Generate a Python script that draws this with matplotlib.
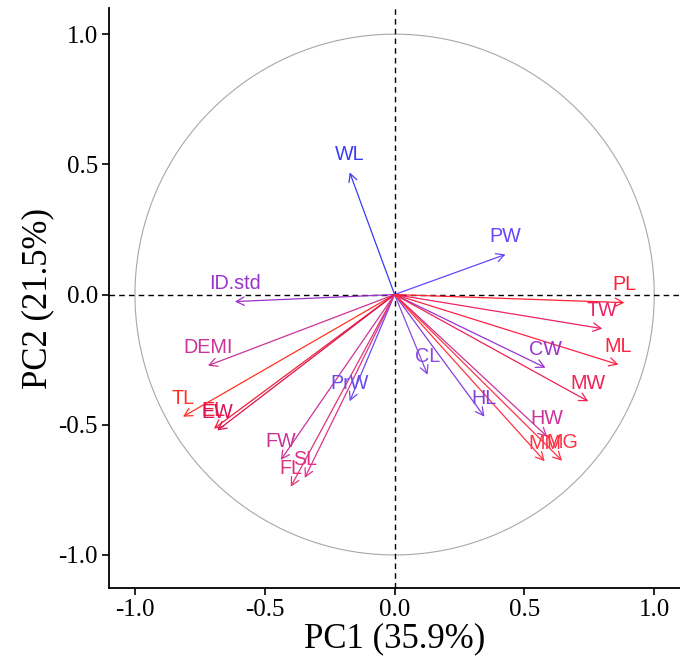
import matplotlib
matplotlib.use("Agg")
import matplotlib.pyplot as plt
import numpy as np

# variable loadings (PC1, PC2)
variables = ["ID.std", "DEMI", "TL", "EL", "EW", "PrW", "FW", "FL", "SL",
             "WL", "PW", "CL", "HL", "CW", "HW", "MM", "MG", "MW", "ML", "TW", "PL"]
pc1 = [-0.615, -0.719, -0.815, -0.696, -0.683, -0.173, -0.438, -0.400, -0.346,
       -0.173, 0.427, 0.127, 0.346, 0.581, 0.588, 0.578, 0.645, 0.746, 0.862, 0.800, 0.885]
pc2 = [-0.027, -0.273, -0.469, -0.515, -0.522, -0.410, -0.635, -0.738, -0.704,
       0.469, 0.154, -0.308, -0.469, -0.281, -0.546, -0.640, -0.638, -0.410, -0.269, -0.131, -0.031]
colors = ["#9933cc", "#cc3399", "#ff3322", "#ee2233", "#dd1155", "#6a4af0", "#cc3399",
          "#e03377", "#dd3388", "#3b3bf5", "#6a45ff", "#8a4ae0", "#8040e0", "#9933cc",
          "#cc3399", "#ff3344", "#ff3344", "#ee2255", "#ff2244", "#ee2266", "#ff2233"]

xticks = [-1.0, -0.5, 0.0, 0.5, 1.0]
yticks = [-1.0, -0.5, 0.0, 0.5, 1.0]
xlabel = "PC1 (35.9%)"
ylabel = "PC2 (21.5%)"

fig = plt.figure(figsize=(6.8, 6.59), dpi=100)
ax = fig.add_axes([0.1603, 0.1077, 0.84, 0.880])
ax.set_xlim(-1.1, 1.1)
ax.set_ylim(-1.127, 1.1)

theta = np.linspace(0, 2 * np.pi, 400)
ax.plot(np.cos(theta), np.sin(theta), color="#a8a8a8", lw=0.8, zorder=1)
ax.axhline(0, color="black", ls=(0, (4, 3)), lw=1.0, zorder=1)
ax.axvline(0, color="black", ls=(0, (4, 3)), lw=1.0, zorder=1)

for name, x, y, c in zip(variables, pc1, pc2, colors):
    ax.annotate("", xy=(x, y), xytext=(0, 0),
                arrowprops=dict(arrowstyle="->,head_length=0.57,head_width=0.3",
                                color=c, lw=0.9, shrinkA=0, shrinkB=0,
                                mutation_scale=10), zorder=3)
    ax.annotate(name, xy=(x, y), xytext=(0, 13), textcoords="offset points",
                ha="center", va="center", color=c, fontsize=14.2,
                family="Liberation Sans", zorder=4)

ax.set_xticks(xticks)
ax.set_yticks(yticks)
ax.set_xticklabels(["%.1f" % t for t in xticks], family="Liberation Serif", fontsize=18)
ax.set_yticklabels(["%.1f" % t for t in yticks], family="Liberation Serif", fontsize=18)
ax.set_xlabel(xlabel, family="Liberation Serif", fontsize=25, labelpad=1)
ax.set_ylabel(ylabel, family="Liberation Serif", fontsize=25, labelpad=3)
ax.spines["top"].set_visible(False)
ax.spines["right"].set_visible(False)
ax.spines["left"].set_linewidth(1.3)
ax.spines["bottom"].set_linewidth(1.3)
ax.tick_params(direction="out", length=5, width=1.2, pad=3, colors="black")

fig.savefig("out.png", dpi=100)
